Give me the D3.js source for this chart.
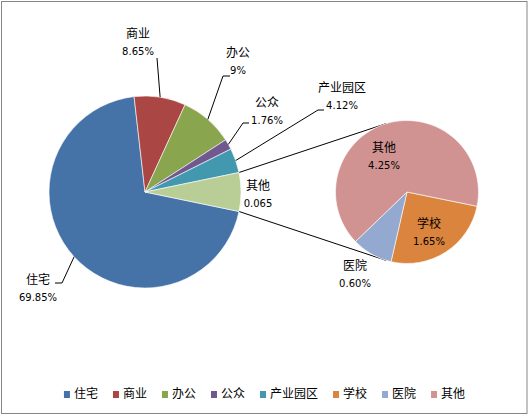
<!DOCTYPE html>
<html>
<head>
<meta charset="utf-8">
<script src="https://cdn.jsdelivr.net/npm/d3@7"></script>
<style>
  body { margin: 0; background: #fff; }
  text { fill: #000; }
  .cn { font-family: "Noto Sans CJK SC", sans-serif; font-size: 12px; }
  .num { font-family: "DejaVu Sans", sans-serif; font-size: 10px; }
</style>
</head>
<body>
<div id="chart"></div>
<script>
// ---- data ----
var mainCats = ["住宅", "商业", "办公", "公众", "产业园区", "其他"];
var mainVals = [69.85, 8.65, 9, 1.76, 4.12, 6.5];
var mainText = ["69.85%", "8.65%", "9%", "1.76%", "4.12%", "0.065"];

var subCats = ["学校", "医院", "其他"];
var subVals = [1.65, 0.60, 4.25];
var subText = ["1.65%", "0.60%", "4.25%"];

var legendCats = ["住宅", "商业", "办公", "公众", "产业园区", "学校", "医院", "其他"];

//=====================================================
var W = 529, H = 417;
var colors = {
  "住宅": "#4572A7", "商业": "#AA4643", "办公": "#89A54E", "公众": "#71588F",
  "产业园区": "#4198AF", "学校": "#DB843D", "医院": "#93A9CF", "其他": "#D19392"
};
var mainOtherColor = "#B9CD97";

var svg = d3.select("#chart").append("svg")
  .attr("width", W)
  .attr("height", H);

svg.append("rect")
  .attr("x", 1.5).attr("y", 1.5)
  .attr("width", 525.5).attr("height", 412)
  .attr("fill", "#fff")
  .attr("stroke", "#868686");

var main = { cx: 145, cy: 192, r: 96 };
var sub = { cx: 407, cy: 192, r: 71.5 };

var mainSum = d3.sum(mainVals);
// the "other" slice sits centred on 3 o'clock, residential starts right after it
var mainStart = Math.PI / 2 + Math.PI * mainVals[5] / mainSum;
var mainPie = d3.pie().sort(null)
  .startAngle(mainStart).endAngle(mainStart + 2 * Math.PI)
  .value(function(d) { return d; });
var mainArcs = mainPie(mainVals);

var subStart = 101.5 * Math.PI / 180;
var subPie = d3.pie().sort(null)
  .startAngle(subStart).endAngle(subStart + 2 * Math.PI)
  .value(function(d) { return d; });
var subArcs = subPie(subVals);

var arcMain = d3.arc().innerRadius(0).outerRadius(main.r);
var arcSub = d3.arc().innerRadius(0).outerRadius(sub.r);

function polar(c, r, a) { return [c.cx + r * Math.sin(a), c.cy - r * Math.cos(a)]; }

// connector lines between the pies
var oth = mainArcs[5];
var conn = [
  [polar(main, main.r, oth.startAngle), polar(sub, sub.r, -17 * Math.PI / 180)],
  [polar(main, main.r, oth.endAngle), polar(sub, sub.r, 197 * Math.PI / 180)]
];
svg.append("g").selectAll("line").data(conn).enter().append("line")
  .attr("x1", function(d) { return d[0][0]; }).attr("y1", function(d) { return d[0][1]; })
  .attr("x2", function(d) { return d[1][0]; }).attr("y2", function(d) { return d[1][1]; })
  .attr("stroke", "#000").attr("stroke-width", 1);

svg.append("g").attr("transform", "translate(" + main.cx + "," + main.cy + ")")
  .selectAll("path").data(mainArcs).enter().append("path")
  .attr("d", arcMain)
  .attr("fill", function(d, i) { return i === 5 ? mainOtherColor : colors[mainCats[i]]; })
  .attr("stroke", "#fff").attr("stroke-width", 0.6);

svg.append("g").attr("transform", "translate(" + sub.cx + "," + sub.cy + ")")
  .selectAll("path").data(subArcs).enter().append("path")
  .attr("d", arcSub)
  .attr("fill", function(d, i) { return colors[subCats[i]]; })
  .attr("stroke", "#fff").attr("stroke-width", 0.6);

// label placement (centre x, top-line baseline) and leader elbows
var mainLabelPos = [
  { x: 38,  y: 284, elbow: [62, 283], tail: [55, 283] },
  { x: 138, y: 38,  elbow: [157, 58] },
  { x: 238, y: 57,  elbow: [223, 76], tail: [230, 76] },
  { x: 267, y: 107, elbow: [243, 123], tail: [249, 123] },
  { x: 342, y: 92,  elbow: [318, 110], tail: [324, 110] },
  { x: 258, y: 190 }
];
var subLabelPos = [
  { x: 429, y: 228 },
  { x: 355, y: 270 },
  { x: 384, y: 152 }
];

var leaders = svg.append("g");
mainArcs.forEach(function(a, i) {
  var p = mainLabelPos[i];
  if (!p.elbow) return;
  var mid = (a.startAngle + a.endAngle) / 2;
  var pts = [polar(main, main.r, mid), p.elbow];
  if (p.tail) pts.push(p.tail);
  leaders.append("path")
    .attr("d", d3.line()(pts))
    .attr("fill", "none").attr("stroke", "#000").attr("stroke-width", 1);
});

function addLabel(pos, name, val) {
  var g = svg.append("g");
  g.append("text").attr("class", "cn")
    .attr("x", pos.x).attr("y", pos.y)
    .attr("text-anchor", "middle").text(name);
  g.append("text").attr("class", "num")
    .attr("x", pos.x).attr("y", pos.y + 17)
    .attr("text-anchor", "middle").text(val);
}
mainCats.forEach(function(c, i) { addLabel(mainLabelPos[i], c, mainText[i]); });
subCats.forEach(function(c, i) { addLabel(subLabelPos[i], c, subText[i]); });

// legend
var legend = svg.append("g");
var items = legend.selectAll("g").data(legendCats).enter().append("g");
items.append("rect")
  .attr("width", 6).attr("height", 7)
  .attr("y", -7)
  .attr("fill", function(d) { return colors[d]; });
items.append("text").attr("class", "cn")
  .attr("x", 10).attr("y", 0)
  .text(function(d) { return d; });

var xCur = 0, gap = 15;
items.each(function() {
  var w = this.getBBox().width;
  d3.select(this).attr("data-x", xCur);
  xCur += w + gap;
});
var totalW = xCur - gap;
var x0 = W / 2 - totalW / 2;
items.attr("transform", function() {
  return "translate(" + (x0 + (+d3.select(this).attr("data-x"))) + ",398)";
});
</script>
</body>
</html>
